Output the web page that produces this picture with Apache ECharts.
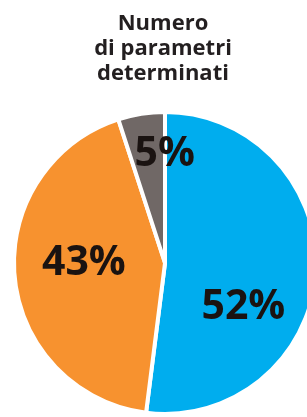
<!DOCTYPE html>
<html><head><meta charset="utf-8">
<script src="https://cdn.jsdelivr.net/npm/echarts@6/dist/echarts.min.js"></script>
<style>html,body{margin:0;padding:0;background:#fff}#c{width:307px;height:417px}</style>
</head><body><div id="c"></div>
<script>
var categories = ['A', 'B', 'C'];
var values = [52, 43, 5];
var colors = ['#00adee', '#f7922f', '#706866'];
var labelShift = [[0, 39], [-3, -7], [12, -31]];
var chart = echarts.init(document.getElementById('c'));
chart.setOption({
  animation: false,
  title: {
    text: 'Numero\ndi parametri\ndeterminati',
    left: 158, top: 6, textAlign: 'center',
    textStyle: { fontFamily: 'Open Sans', fontWeight: 'bold', fontSize: 22, lineHeight: 25, color: '#231f20' }
  },
  series: [{
    type: 'pie',
    center: [165, 263],
    radius: 151,
    startAngle: 90,
    clockwise: true,
    avoidLabelOverlap: false,
    itemStyle: { borderColor: '#fff', borderWidth: 4 },
    label: {
      show: true, position: 'inside',
      formatter: '{c}%',
      fontFamily: 'Open Sans', fontWeight: 'bold', fontSize: 41, color: '#1a1311'
    },
    labelLine: { show: false },
    labelLayout: function (p) {
      var s = labelShift[p.dataIndex];
      return { dx: s[0], dy: s[1] };
    },
    data: categories.map(function (c, i) {
      return { name: c, value: values[i], itemStyle: { color: colors[i] } };
    })
  }]
});
</script></body></html>
